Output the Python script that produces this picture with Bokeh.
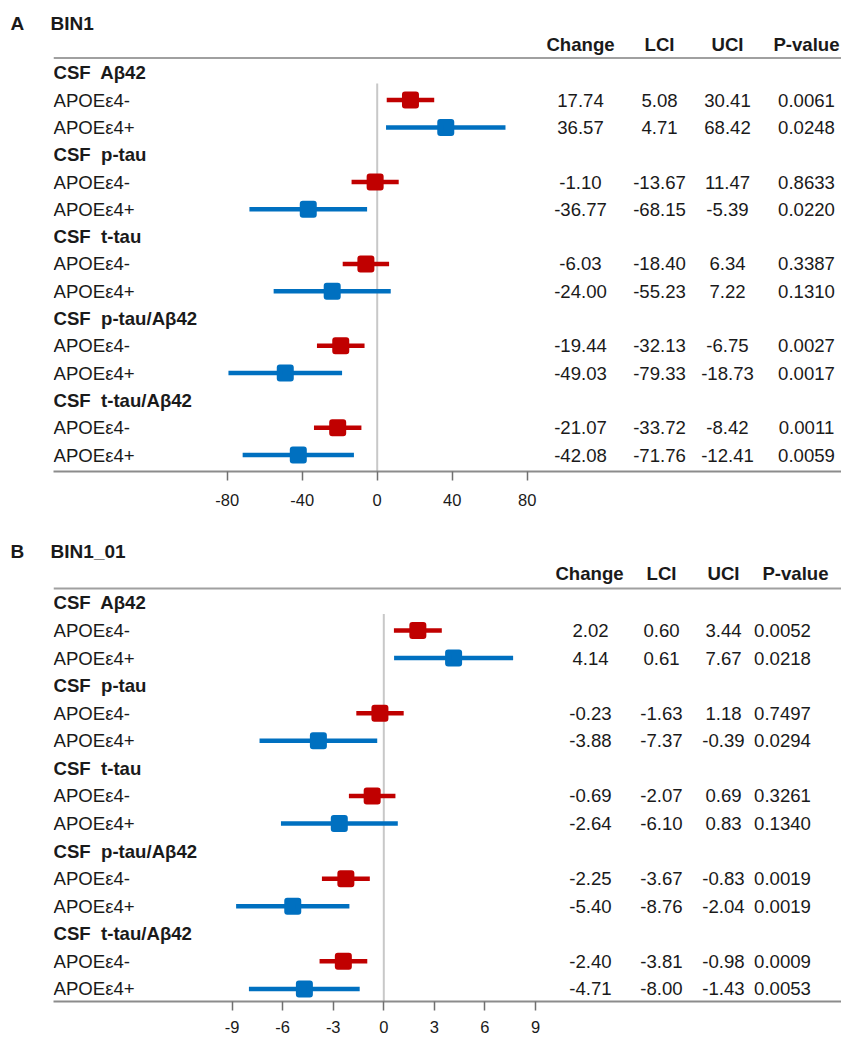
from bokeh.plotting import figure
from bokeh.models import Range1d, FixedTicker, ColumnDataSource
from bokeh.layouts import column
from bokeh.embed import file_html
from bokeh.resources import INLINE
from bokeh.core.properties import value

# ---------------- data ----------------
groups = ["CSF\u00a0 Aβ42", "CSF\u00a0 p-tau", "CSF\u00a0 t-tau", "CSF\u00a0 p-tau/Aβ42", "CSF\u00a0 t-tau/Aβ42"]
subgroups = ["APOEε4-", "APOEε4+"]
table_headers = ["Change", "LCI", "UCI", "P-value"]

a_change = [17.74, 36.57, -1.10, -36.77, -6.03, -24.00, -19.44, -49.03, -21.07, -42.08]
a_lci = [5.08, 4.71, -13.67, -68.15, -18.40, -55.23, -32.13, -79.33, -33.72, -71.76]
a_uci = [30.41, 68.42, 11.47, -5.39, 6.34, 7.22, -6.75, -18.73, -8.42, -12.41]
a_p = [0.0061, 0.0248, 0.8633, 0.0220, 0.3387, 0.1310, 0.0027, 0.0017, 0.0011, 0.0059]
a_ticks = [-80, -40, 0, 40, 80]

b_change = [2.02, 4.14, -0.23, -3.88, -0.69, -2.64, -2.25, -5.40, -2.40, -4.71]
b_lci = [0.60, 0.61, -1.63, -7.37, -2.07, -6.10, -3.67, -8.76, -3.81, -8.00]
b_uci = [3.44, 7.67, 1.18, -0.39, 0.69, 0.83, -0.83, -2.04, -0.98, -1.43]
b_p = [0.0052, 0.0218, 0.7497, 0.0294, 0.3261, 0.1340, 0.0019, 0.0019, 0.0009, 0.0053]
b_ticks = [-9, -6, -3, 0, 3, 6, 9]

# ---------------- style ----------------
FONT = "Liberation Sans"
RED = "#C00000"
BLUE = "#0070C0"
TXT = "#1a1a1a"
FS = "18.6px"
LEFT = 53
RIGHT = 841


def make_panel(title, change, lci, uci, pvals, ticks, xr, yr, frame_h,
               header_r, line_r, zero_r, head_x, val_x, mbb, standoff):
    p = figure(frame_width=RIGHT - LEFT, frame_height=frame_h,
               x_range=Range1d(*xr), y_range=Range1d(*yr),
               y_axis_location=None, toolbar_location=None,
               output_backend="svg", min_border_left=LEFT, min_border_right=0,
               min_border_top=33, min_border_bottom=mbb,
               outline_line_color=None, background_fill_color="white")
    p.extra_x_ranges = {"px": Range1d(LEFT, RIGHT)}
    p.xgrid.visible = False
    p.ygrid.visible = False

    p.title.text = title
    p.title.text_font = FONT
    p.title.text_font_size = "19px"
    p.title.text_font_style = "bold"
    p.title.text_color = TXT
    p.title.offset = -43
    p.title.standoff = 0

    data_rows = [3 * (i // 2) + 1 + (i % 2) for i in range(len(change))]
    colors = [RED if i % 2 == 0 else BLUE for i in range(len(change))]

    # zero line
    p.segment(x0=[0], x1=[0], y0=[zero_r], y1=[yr[0]], line_color="#C8C8C8", line_width=2)
    # header line
    p.segment(x0=[LEFT], x1=[RIGHT], y0=[line_r], y1=[line_r], line_color="#A0A0A0",
              line_width=2, x_range_name="px")

    src = ColumnDataSource(dict(y=data_rows, c=change, lo=lci, hi=uci, col=colors))
    p.segment(x0="lo", x1="hi", y0="y", y1="y", line_color="col", line_width=4.5, source=src)
    p.scatter(x="c", y="y", marker="square", size=11, line_width=6, line_join="round",
              fill_color="col", line_color="col", source=src)

    # row labels
    g_src = ColumnDataSource(dict(x=[LEFT] * len(groups), y=[3 * g for g in range(len(groups))], t=groups))
    p.text(x="x", y="y", text="t", source=g_src, x_range_name="px",
           text_font=value(FONT), text_font_size=value(FS), text_font_style="bold",
           text_color=TXT, text_align="left", text_baseline="middle")
    s_src = ColumnDataSource(dict(x=[LEFT] * len(data_rows), y=data_rows,
                                  t=[subgroups[i % 2] for i in range(len(data_rows))]))
    p.text(x="x", y="y", text="t", source=s_src, x_range_name="px",
           text_font=value(FONT), text_font_size=value(FS),
           text_color=TXT, text_align="left", text_baseline="middle")

    # table headers
    h_src = ColumnDataSource(dict(x=head_x, y=[header_r] * 4, t=table_headers))
    p.text(x="x", y="y", text="t", source=h_src, x_range_name="px",
           text_font=value(FONT), text_font_size=value(FS), text_font_style="bold",
           text_color=TXT, text_align="center", text_baseline="middle")

    # table values
    tx, ty, tt = [], [], []
    for i in range(len(change)):
        vals = ["%.2f" % change[i], "%.2f" % lci[i], "%.2f" % uci[i], "%.4f" % pvals[i]]
        for j in range(4):
            tx.append(val_x[j])
            ty.append(data_rows[i])
            tt.append(vals[j])
    v_src = ColumnDataSource(dict(x=tx, y=ty, t=tt))
    p.text(x="x", y="y", text="t", source=v_src, x_range_name="px",
           text_font=value(FONT), text_font_size=value(FS),
           text_color=TXT, text_align="center", text_baseline="middle")

    ax = p.xaxis[0]
    ax.ticker = FixedTicker(ticks=ticks, minor_ticks=[])
    ax.major_label_overrides = {t: str(t) for t in ticks}
    ax.axis_line_color = "#8C8C8C"
    ax.axis_line_width = 2
    ax.major_tick_line_color = "#707070"
    ax.major_tick_line_width = 1.5
    ax.major_tick_in = 0
    ax.major_tick_out = 9
    ax.minor_tick_line_color = None
    ax.major_label_text_font = FONT
    ax.major_label_text_font_size = "16.5px"
    ax.major_label_text_color = TXT
    ax.major_label_standoff = standoff
    return p


a_scale = 1.875
a_zero = 376.7
pA = make_panel("A\u00a0\u00a0\u00a0\u00a0\u00a0BIN1", a_change, a_lci, a_uci, a_p, a_ticks,
                ((LEFT - a_zero) / a_scale, (RIGHT - a_zero) / a_scale),
                (14.604, -1.44), 438, -1.03, -0.54, 0.39,
                [580, 659, 727, 806], [580, 659, 727, 806], 57, 13)

b_scale = 16.86
b_zero = 383.3
pB = make_panel("B\u00a0\u00a0\u00a0\u00a0\u00a0BIN1_01", b_change, b_lci, b_uci, b_p, b_ticks,
                ((LEFT - b_zero) / b_scale, (RIGHT - b_zero) / b_scale),
                (14.457, -1.503), 440, -1.08, -0.52, 0.4,
                [589, 661, 723, 795], [590, 661, 723, 782], 0, 10)

layout = column(pA, pB, spacing=0)
open("out.html", "w").write(file_html(layout, INLINE))
